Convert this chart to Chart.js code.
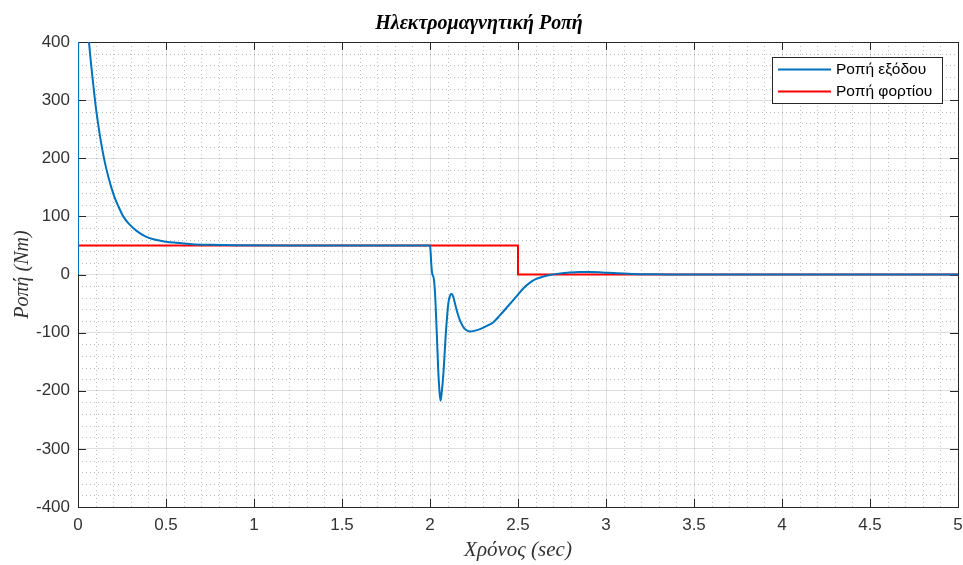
<!DOCTYPE html>
<html>
<head>
<meta charset="utf-8">
<title>Ηλεκτρομαγνητική Ροπή</title>
<script src="https://cdn.jsdelivr.net/npm/chart.js@4.4.1/dist/chart.umd.min.js"></script>
<style>
    body { margin: 0; background: #fff; }
    canvas { display: block; }
</style>
</head>
<body>
<canvas id="myChart" width="963" height="565"></canvas>
<script>
// Ροπή εξόδου
var outTime = [0, 0.003, 0.03, 0.05, 0.0625, 0.075, 0.087, 0.1, 0.115, 0.13, 0.145, 0.16, 0.175, 0.19, 0.21, 0.23, 0.257, 0.29, 0.333, 0.38, 0.428, 0.5, 0.56, 0.65, 0.75, 0.9, 1.2, 2.0,
    2.002, 2.008, 2.012, 2.023, 2.03, 2.038, 2.047, 2.055, 2.06, 2.066, 2.076, 2.091, 2.104, 2.113, 2.123, 2.132, 2.142, 2.155, 2.17, 2.185, 2.199, 2.227, 2.25, 2.284, 2.32, 2.36, 2.398, 2.45, 2.49, 2.53, 2.568, 2.6, 2.64, 2.68, 2.73, 2.777, 2.85, 2.91, 2.98, 3.06, 3.15, 3.25, 3.35, 3.5, 5];
var outTorque = [0, 900, 560, 450, 400, 360, 326, 291, 258, 229, 204, 183, 165, 149, 131, 117, 100, 87, 75, 66, 60.5, 56.5, 54.5, 52, 51, 50.3, 50, 50,
    45, 15, 3, -10, -40, -97, -166, -205, -217, -205, -171, -97, -50, -37, -33, -38, -50, -65, -79, -88, -94, -98, -97, -94, -89, -82, -70, -52, -38, -24, -14, -8, -4, -1, 1.5, 3, 4.5, 4.5, 3.5, 2, 1, 0.5, 0.1, 0, 0];

// Ροπή φορτίου
var loadTime = [0, 2.5, 2.5, 5];
var loadTorque = [50, 50, 0, 0];

var xTicks = { min: 0, max: 5, major: 0.5, minor: 0.1 };
var yTicks = { min: -400, max: 400, major: 100, minor: 20 };

function toPoints(xs, ys) {
    return xs.map(function (x, i) {
        return { x: x, y: ys[i] };
    });
}

var axisColor = '#262626';
var sans = "'Liberation Sans', Arial, sans-serif";
var tickFont = { family: sans, size: 17 };
var serif = "'Liberation Serif', 'Times New Roman', serif";

// minor dotted grid, inward tick marks, box and legend like a MATLAB figure
var matlabAxes = {
    id: 'matlabAxes',
    beforeDatasetsDraw: function (chart) {
        var ctx = chart.ctx, a = chart.chartArea;
        var xs = chart.scales.x, ys = chart.scales.y;
        var v, p, n, tl = 8;
        ctx.save();
        ctx.strokeStyle = 'rgba(38,38,38,0.3)';
        ctx.lineWidth = 1;
        ctx.setLineDash([1, 3]);
        for (n = 1; n < 50; n++) {
            if (n % 5 === 0) continue;
            v = xTicks.min + n * xTicks.minor;
            p = Math.round(xs.getPixelForValue(v)) + 0.5;
            ctx.beginPath();
            ctx.moveTo(p, a.top);
            ctx.lineTo(p, a.bottom);
            ctx.stroke();
        }
        for (n = 1; n < 40; n++) {
            if (n % 5 === 0) continue;
            v = yTicks.min + n * yTicks.minor;
            p = Math.round(ys.getPixelForValue(v)) + 0.5;
            ctx.beginPath();
            ctx.moveTo(a.left, p);
            ctx.lineTo(a.right, p);
            ctx.stroke();
        }
        ctx.setLineDash([]);

        ctx.strokeStyle = axisColor;
        ctx.beginPath();
        for (v = xTicks.min; v <= xTicks.max + 1e-9; v += xTicks.major) {
            p = Math.round(xs.getPixelForValue(v)) + 0.5;
            ctx.moveTo(p, a.bottom);
            ctx.lineTo(p, a.bottom - tl);
            ctx.moveTo(p, a.top);
            ctx.lineTo(p, a.top + tl);
        }
        for (v = yTicks.min; v <= yTicks.max + 1e-9; v += yTicks.major) {
            p = Math.round(ys.getPixelForValue(v)) + 0.5;
            ctx.moveTo(a.left, p);
            ctx.lineTo(a.left + tl, p);
            ctx.moveTo(a.right, p);
            ctx.lineTo(a.right - tl, p);
        }
        ctx.stroke();
        ctx.strokeRect(Math.round(a.left) + 0.5, Math.round(a.top) + 0.5,
            Math.round(a.right - a.left), Math.round(a.bottom - a.top));
        ctx.restore();
    },
    afterDatasetsDraw: function (chart) {
        var ctx = chart.ctx;
        // legend box
        var bx = 772, by = 57, bw = 170, bh = 46;
        ctx.save();
        ctx.fillStyle = '#fff';
        ctx.fillRect(bx, by, bw, bh);
        ctx.strokeStyle = axisColor;
        ctx.lineWidth = 1;
        ctx.strokeRect(bx + 0.5, by + 0.5, bw, bh);
        ctx.font = '15.5px ' + sans;
        ctx.textBaseline = 'middle';
        chart.data.datasets.forEach(function (ds, i) {
            var ly = by + 12.5 + i * 22;
            ctx.strokeStyle = ds.borderColor;
            ctx.lineWidth = 2;
            ctx.beginPath();
            ctx.moveTo(bx + 6, ly);
            ctx.lineTo(bx + 59, ly);
            ctx.stroke();
            ctx.fillStyle = '#000';
            ctx.fillText(ds.label, bx + 64, ly + 0.5);
        });
        ctx.restore();
    }
};

var ctx = document.getElementById('myChart').getContext('2d');
var myChart = new Chart(ctx, {
    type: 'line',
    data: {
        datasets: [
            {
                label: 'Ροπή εξόδου',
                data: toPoints(outTime, outTorque),
                borderColor: '#0072BD',
                borderWidth: 2,
                pointRadius: 0,
                cubicInterpolationMode: 'monotone',
                fill: false
            },
            {
                label: 'Ροπή φορτίου',
                data: toPoints(loadTime, loadTorque),
                borderColor: '#FF0000',
                borderWidth: 2,
                pointRadius: 0,
                tension: 0,
                fill: false
            }
        ]
    },
    options: {
        responsive: false,
        animation: false,
        layout: { padding: { left: 0, right: 5, top: 0, bottom: 0 } },
        plugins: {
            legend: { display: false },
            tooltip: { enabled: false },
            title: {
                display: true,
                text: 'Ηλεκτρομαγνητική Ροπή',
                color: '#000',
                font: { family: serif, size: 20, style: 'italic', weight: 'bold', lineHeight: 1.2 },
                padding: { top: 12, bottom: 6 }
            }
        },
        scales: {
            x: {
                type: 'linear',
                min: xTicks.min,
                max: xTicks.max,
                afterFit: function (scale) {
                    scale.height = 58;
                    scale.paddingLeft = 0;
                    scale.paddingRight = 0;
                },
                ticks: {
                    stepSize: xTicks.major,
                    color: '#333',
                    font: tickFont,
                    padding: 8,
                    maxRotation: 0,
                    callback: function (value) { return String(Math.round(value * 10) / 10); }
                },
                grid: { color: 'rgba(38,38,38,0.15)', drawTicks: false },
                border: { display: false },
                title: {
                    display: true,
                    text: 'Χρόνος (sec)',
                    color: '#333',
                    font: { family: serif, size: 21, style: 'italic', lineHeight: 1.2 },
                    padding: { top: 0, bottom: 2 }
                }
            },
            y: {
                min: yTicks.min,
                max: yTicks.max,
                afterFit: function (scale) { scale.width = 78; },
                ticks: { stepSize: yTicks.major, color: '#333', font: tickFont, padding: 8 },
                grid: { color: 'rgba(38,38,38,0.15)', drawTicks: false },
                border: { display: false },
                title: {
                    display: true,
                    text: 'Ροπή (Nm)',
                    color: '#333',
                    font: { family: serif, size: 20, style: 'italic', lineHeight: 1.2 },
                    padding: { top: 11, bottom: 0 }
                }
            }
        }
    },
    plugins: [matlabAxes]
});
</script>
</body>
</html>
